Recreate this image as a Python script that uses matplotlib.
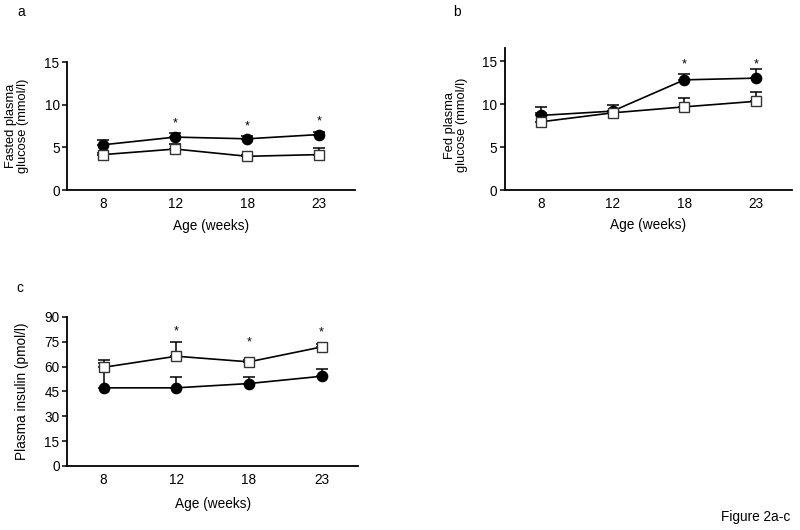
import matplotlib.pyplot as plt
import numpy as np

plt.rcParams['font.family'] = ['Liberation Sans', 'DejaVu Sans']

# Ages (weeks)
ages = ['8', '12', '18', '23']

# Panel a - fasted plasma glucose (mmol/l)
a_circ = [5.3, 6.2, 6.0, 6.5]
a_circ_err = [0.6, 0.5, 0.3, 0.3]
a_sq = [4.15, 4.8, 3.95, 4.15]
a_sq_err = [0.2, 0.6, 0.2, 0.75]
a_star_idx = [1, 2, 3]
a_star_y = [7.8, 7.5, 8.0]

# Panel b - fed plasma glucose (mmol/l)
b_circ = [8.7, 9.2, 12.85, 13.05]
b_circ_err = [1.0, 0.75, 0.65, 1.05]
b_sq = [7.95, 9.0, 9.7, 10.35]
b_sq_err = [1.05, 0.2, 1.0, 1.1]
b_star_idx = [2, 3]
b_star_y = [14.6, 14.6]

# Panel c - plasma insulin (pmol/l)
c_circ = [47.2, 47.2, 49.8, 54.2]
c_circ_err = [14.8, 6.8, 4.0, 4.4]
c_sq = [59.6, 66.3, 62.9, 71.9]
c_sq_err = [4.5, 8.8, 1.0, 2.0]
c_star_idx = [1, 2, 3]
c_star_y = [81, 74.5, 80.5]

FS = 9.8

fig = plt.figure(figsize=(8, 5.3), dpi=100)
ax_a = fig.add_axes([0.084, 0.6415, 0.36, 0.2415])
ax_b = fig.add_axes([0.631, 0.6415, 0.359, 0.2685])
ax_c = fig.add_axes([0.084, 0.1208, 0.3635, 0.2811])

x = np.arange(len(ages))


def draw(ax, circ, circ_err, sq, sq_err, star_idx, star_y):
    ax.errorbar(x, circ, yerr=[np.zeros(len(x)), circ_err], fmt='none',
                ecolor='black', elinewidth=1.1, capsize=4.5, capthick=1.1, zorder=2)
    ax.errorbar(x, sq, yerr=[np.zeros(len(x)), sq_err], fmt='none',
                ecolor='black', elinewidth=1.1, capsize=4.5, capthick=1.1, zorder=2)
    ax.plot(x, circ, color='black', lw=1.2, marker='o', ms=7.4,
            mfc='black', mec='black', zorder=3)
    ax.plot(x, sq, color='black', lw=1.2, marker='s', ms=7.0,
            mfc='white', mec='#333333', mew=1.0, zorder=4)
    for i, yy in zip(star_idx, star_y):
        ax.text(x[i], yy, '*', ha='center', va='center', fontsize=9)
    ax.set_xlim(-0.5, 3.5)
    ax.set_xticks(x)
    ax.set_xticklabels(ages)
    ax.tick_params(axis='x', length=0, pad=5, labelsize=FS)
    ax.tick_params(axis='y', length=3.5, width=1.1, pad=2, labelsize=FS)
    for s in ['top', 'right']:
        ax.spines[s].set_visible(False)
    for s in ['left', 'bottom']:
        ax.spines[s].set_linewidth(1.3)
    ax.set_xlabel('Age (weeks)', fontsize=FS)


draw(ax_a, a_circ, a_circ_err, a_sq, a_sq_err, a_star_idx, a_star_y)
ax_a.set_ylim(0, 15)
ax_a.set_yticks([0, 5, 10, 15])
ax_a.set_ylabel('Fasted plasma\nglucose (mmol/l)', fontsize=9.3, linespacing=1.0)
ax_a.yaxis.set_label_coords(-0.133, 0.5)
ax_a.xaxis.set_label_coords(0.5, -0.225)

draw(ax_b, b_circ, b_circ_err, b_sq, b_sq_err, b_star_idx, b_star_y)
ax_b.set_ylim(0, 16.6)
ax_b.set_yticks([0, 5, 10, 15])
ax_b.set_ylabel('Fed plasma\nglucose (mmol/l)', fontsize=9.3, linespacing=1.0)
ax_b.yaxis.set_label_coords(-0.127, 0.455)
ax_b.xaxis.set_label_coords(0.5, -0.195)

draw(ax_c, c_circ, c_circ_err, c_sq, c_sq_err, c_star_idx, c_star_y)
ax_c.set_ylim(0, 90)
ax_c.set_yticks([0, 15, 30, 45, 60, 75, 90])
ax_c.set_ylabel('Plasma insulin (pmol/l)', fontsize=FS)
ax_c.yaxis.set_label_coords(-0.133, 0.5)
ax_c.xaxis.set_label_coords(0.5, -0.21)

fig.text(21 / 800, 1 - 12 / 530, 'a', ha='center', va='center', fontsize=FS)
fig.text(457 / 800, 1 - 12 / 530, 'b', ha='center', va='center', fontsize=FS)
fig.text(20 / 800, 1 - 288 / 530, 'c', ha='center', va='center', fontsize=FS)
fig.text(0.988, 1 - 517 / 530, 'Figure 2a-c', ha='right', va='center', fontsize=FS)

fig.savefig('out.png', dpi=100)
